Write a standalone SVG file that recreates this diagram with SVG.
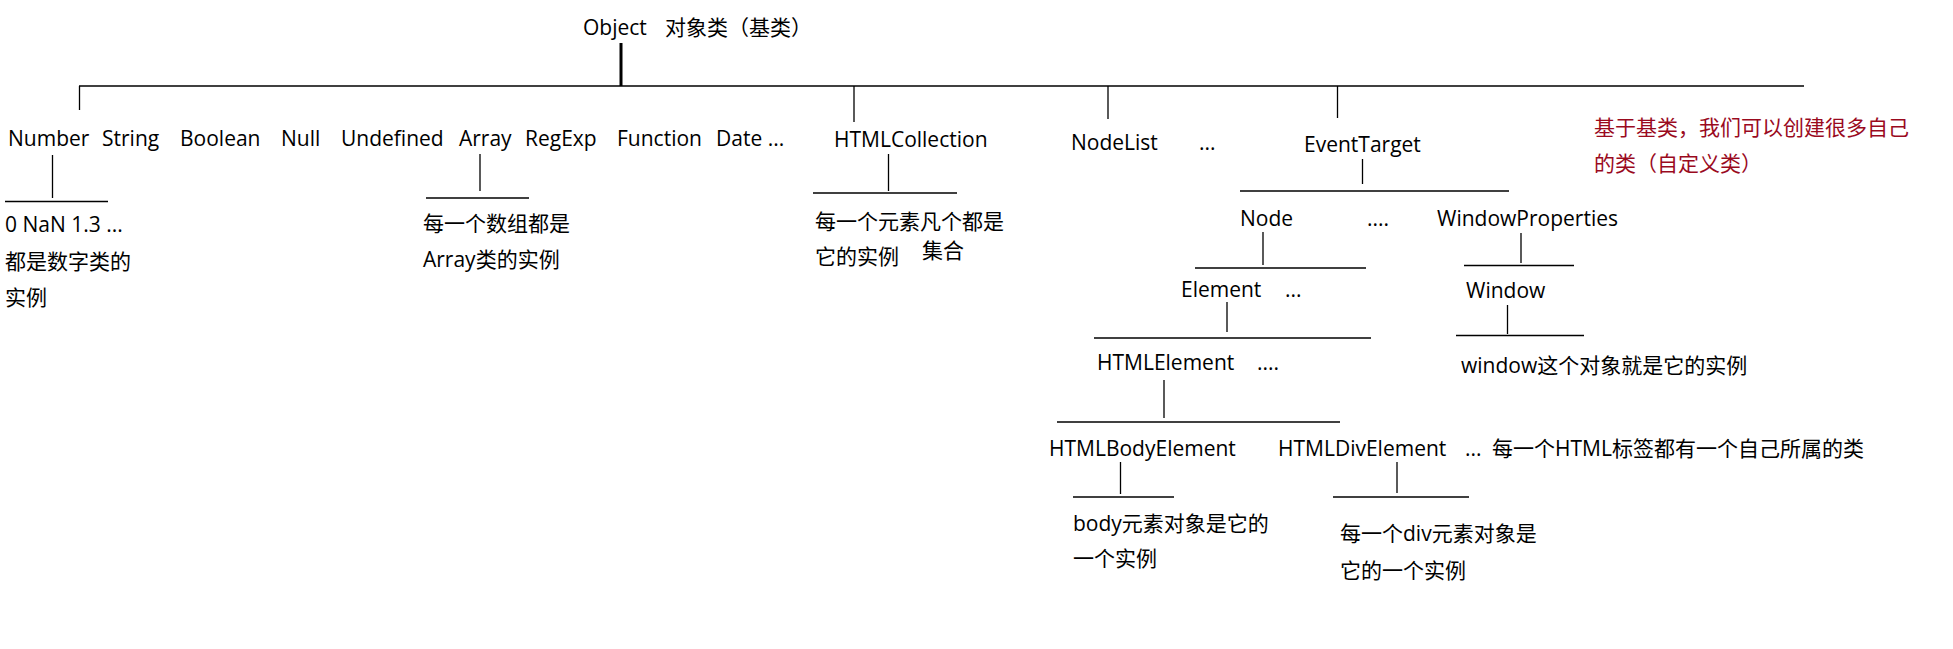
<svg xmlns="http://www.w3.org/2000/svg" width="1953" height="649" viewBox="0 0 1953 649">
<style>
text{font-family:"Open Sans","Noto Sans CJK SC",sans-serif;font-size:21px;fill:#000}
.red{fill:#9a0a1e}
.c line{stroke:#000;stroke-width:1.3}
.c line.thick{stroke-width:3}
</style>
<rect width="1953" height="649" fill="#fff"/>
<g id="connectors" class="c">
<line class="thick" x1="621" y1="43" x2="621" y2="86"/>
<line x1="79" y1="86" x2="1804" y2="86"/>
<line x1="79.5" y1="86" x2="79.5" y2="110"/>
<line x1="854" y1="86" x2="854" y2="122"/>
<line x1="1108" y1="86" x2="1108" y2="119"/>
<line x1="1337.5" y1="86" x2="1337.5" y2="118"/>
<line x1="52.5" y1="155" x2="52.5" y2="198"/>
<line x1="5" y1="201.5" x2="108" y2="201.5"/>
<line x1="480" y1="154" x2="480" y2="191"/>
<line x1="426" y1="198" x2="529" y2="198"/>
<line x1="888.5" y1="154" x2="888.5" y2="191"/>
<line x1="813" y1="193" x2="957" y2="193"/>
<line x1="1362.5" y1="159" x2="1362.5" y2="184"/>
<line x1="1240" y1="191" x2="1509" y2="191"/>
<line x1="1263" y1="232" x2="1263" y2="265"/>
<line x1="1195" y1="268" x2="1366" y2="268"/>
<line x1="1521" y1="233" x2="1521" y2="263"/>
<line x1="1464" y1="265.5" x2="1574" y2="265.5"/>
<line x1="1227" y1="302" x2="1227" y2="332"/>
<line x1="1094" y1="338" x2="1371" y2="338"/>
<line x1="1507.5" y1="305" x2="1507.5" y2="334"/>
<line x1="1456" y1="335.5" x2="1584" y2="335.5"/>
<line x1="1164" y1="380" x2="1164" y2="418"/>
<line x1="1057" y1="422" x2="1340" y2="422"/>
<line x1="1120.5" y1="462" x2="1120.5" y2="494"/>
<line x1="1073" y1="497" x2="1174" y2="497"/>
<line x1="1397" y1="462" x2="1397" y2="493"/>
<line x1="1333" y1="497" x2="1469" y2="497"/>
</g>
<g id="object"><text x="583" y="35">Object</text><text x="665" y="35">对象类（基类）</text></g>
<g id="builtins">
<text x="8" y="146">Number</text>
<text x="102" y="146">String</text>
<text x="180" y="146">Boolean</text>
<text x="281" y="146">Null</text>
<text x="341" y="146">Undefined</text>
<text x="459" y="146">Array</text>
<text x="525" y="146">RegExp</text>
<text x="617" y="146">Function</text>
<text x="716" y="146">Date ...</text>
</g>
<g id="number-instances">
<text x="5" y="232">0 NaN 1.3 ...</text>
<text x="5" y="269">都是数字类的</text>
<text x="5" y="305">实例</text>
</g>
<g id="array-instances">
<text x="423" y="231">每一个数组都是</text>
<text x="423" y="267">Array类的实例</text>
</g>
<g id="htmlcollection"><text x="834" y="147">HTMLCollection</text></g>
<g id="htmlcollection-instances">
<text x="815" y="229">每一个元素凡个都是</text>
<text x="815" y="264">它的实例</text>
<text x="922" y="258">集合</text>
</g>
<g id="nodelist"><text x="1071" y="150">NodeList</text><text x="1199" y="150">...</text></g>
<g id="eventtarget"><text x="1304" y="152">EventTarget</text></g>
<g id="note-custom">
<text class="red" x="1594" y="135">基于基类，我们可以创建很多自己</text>
<text class="red" x="1594" y="171">的类（自定义类）</text>
</g>
<g id="node"><text x="1240" y="226">Node</text><text x="1367" y="226">....</text></g>
<g id="windowproperties"><text x="1437" y="226">WindowProperties</text></g>
<g id="element"><text x="1181" y="297">Element</text><text x="1285" y="297">...</text></g>
<g id="window"><text x="1466" y="298">Window</text></g>
<g id="window-instance"><text x="1461" y="373">window这个对象就是它的实例</text></g>
<g id="htmlelement"><text x="1097" y="370">HTMLElement</text><text x="1257" y="370">....</text></g>
<g id="htmlbodyelement"><text x="1049" y="456">HTMLBodyElement</text></g>
<g id="htmldivelement"><text x="1278" y="456">HTMLDivElement</text><text x="1465" y="456">...</text></g>
<g id="note-html"><text x="1492" y="456">每一个HTML标签都有一个自己所属的类</text></g>
<g id="body-instance">
<text x="1073" y="531">body元素对象是它的</text>
<text x="1073" y="566">一个实例</text>
</g>
<g id="div-instance">
<text x="1340" y="541">每一个div元素对象是</text>
<text x="1340" y="578">它的一个实例</text>
</g>
</svg>
